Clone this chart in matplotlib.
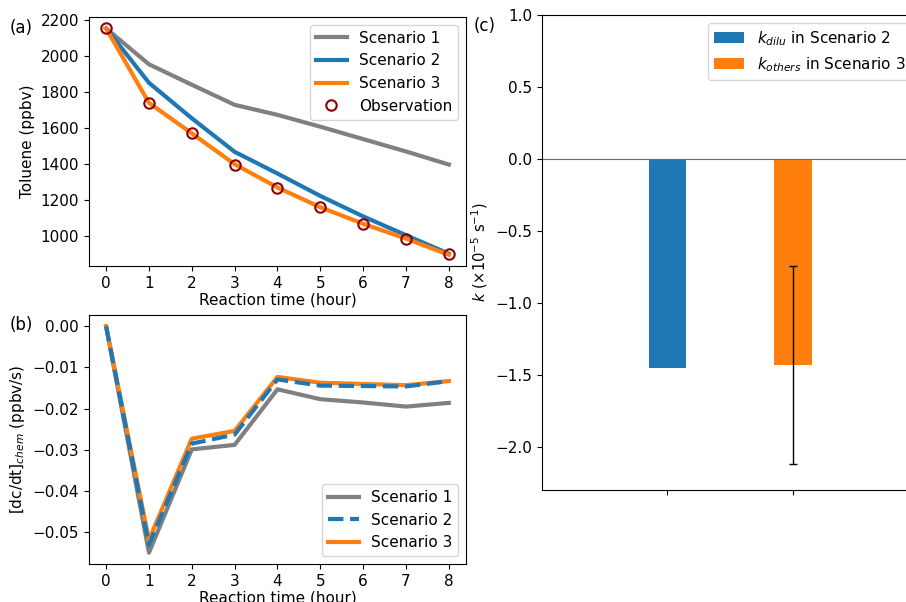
import matplotlib
matplotlib.use("Agg")
import matplotlib.pyplot as plt
import numpy as np

hours = [0, 1, 2, 3, 4, 5, 6, 7, 8]

# (a) toluene mixing ratio (ppbv)
obs = [2155, 1738, 1572, 1394, 1265, 1157, 1064, 981, 895]
tol_s1 = [2155, 1955, 1841, 1729, 1673, 1607, 1538, 1469, 1396]
tol_s2 = [2155, 1852, 1654, 1467, 1346, 1221, 1107, 1002, 899]
tol_s3 = [2155, 1740, 1570, 1398, 1268, 1158, 1066, 983, 893]

# (b) chemical loss rate (ppbv/s)
rate_s1 = [0.0, -0.0550, -0.0299, -0.0288, -0.0153, -0.0177, -0.0185, -0.0195, -0.0186]
rate_s2 = [0.0, -0.0531, -0.0285, -0.0263, -0.0129, -0.0144, -0.0145, -0.0146, -0.0133]
rate_s3 = [0.0, -0.0519, -0.0273, -0.0254, -0.0123, -0.0137, -0.0140, -0.0143, -0.0133]

# (c) fitted rate constants (1e-5 s^-1)
k_labels = [r"$k_{dilu}$ in Scenario 2", r"$k_{others}$ in Scenario 3"]
k_vals = [-1.455, -1.43]
k_err = [None, 0.687]

plt.rcParams["font.size"] = 11
GRAY, BLUE, ORANGE = "gray", "C0", "C1"

fig = plt.figure(figsize=(9.06, 6.02), dpi=100)
ax_a = fig.add_axes([0.0982, 0.558, 0.4161, 0.4136])
ax_b = fig.add_axes([0.0982, 0.0631, 0.4161, 0.4136])
ax_c = fig.add_axes([0.598, 0.186, 0.4161, 0.789])

# (a)
ax_a.plot(hours, tol_s1, color=GRAY, lw=3, label="Scenario 1")
ax_a.plot(hours, tol_s2, color=BLUE, lw=3, label="Scenario 2")
ax_a.plot(hours, tol_s3, color=ORANGE, lw=3, label="Scenario 3")
ax_a.plot(hours, obs, "o", mfc="none", mec="darkred", ms=7.5, mew=1.5,
          label="Observation")
ax_a.set_xticks(hours)
ax_a.set_xlabel("Reaction time (hour)", labelpad=1)
ax_a.set_ylabel("Toluene (ppbv)")
ax_a.legend(loc="upper right")
fig.text(0.011, 0.945, "(a)", fontsize=12)

# (b)
l1, = ax_b.plot(hours, rate_s1, color=GRAY, lw=3, label="Scenario 1")
l3, = ax_b.plot(hours, rate_s3, color=ORANGE, lw=3, label="Scenario 3")
l2, = ax_b.plot(hours, rate_s2, color=BLUE, lw=3, ls="--", label="Scenario 2")
ax_b.set_xticks(hours)
ax_b.set_xlabel("Reaction time (hour)", labelpad=1)
ax_b.set_ylabel(r"[dc/dt]$_{chem}$ (ppbv/s)")
ax_b.legend(handles=[l1, l2, l3], loc="lower right")
fig.text(0.011, 0.452, "(b)", fontsize=12)

# (c)
xpos = np.arange(len(k_vals))
ax_c.bar(xpos[0], k_vals[0], width=0.3, color=BLUE, label=k_labels[0])
ax_c.bar(xpos[1], k_vals[1], width=0.3, color=ORANGE, label=k_labels[1],
         yerr=k_err[1], capsize=3, error_kw={"elinewidth": 1})
ax_c.axhline(0, color="dimgray", lw=0.8)
ax_c.set_xlim(-1, 2)
ax_c.set_ylim(-2.3, 1.0)
ax_c.set_xticks(xpos)
ax_c.set_xticklabels(["", ""])
ax_c.set_ylabel(r"$k$ ($\times 10^{-5}$ s$^{-1}$)", fontsize=10.5)
ax_c.legend(loc="upper right")
fig.text(0.523, 0.948, "(c)", fontsize=12)

fig.savefig("out.png", dpi=100)
